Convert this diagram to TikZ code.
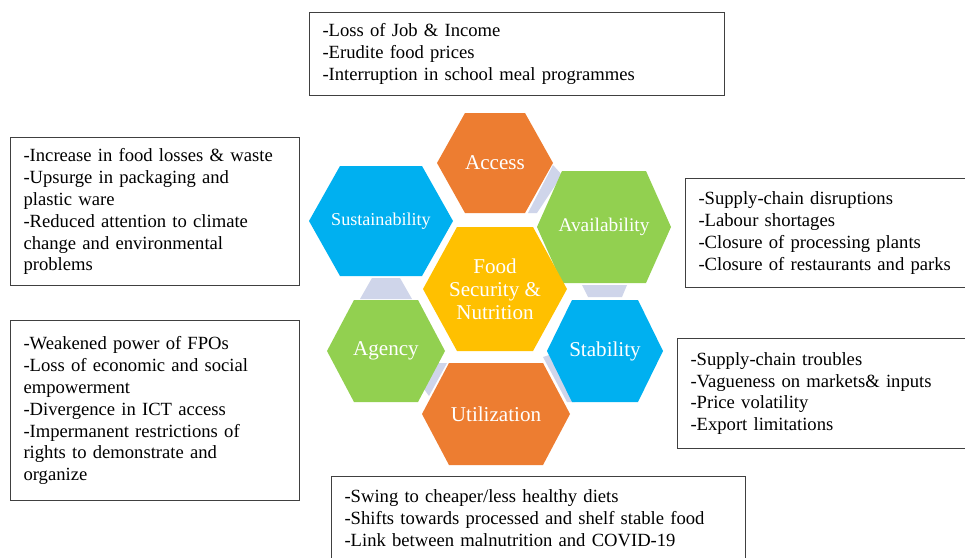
\documentclass[tikz,border=0pt]{standalone}
\usepackage{fontspec}
\setmainfont{Liberation Serif}

\definecolor{hexorange}{HTML}{ED7D31}
\definecolor{hexgreen}{HTML}{92D050}
\definecolor{hexblue}{HTML}{00B0F0}
\definecolor{hexyellow}{HTML}{FFC000}
\definecolor{linkgray}{HTML}{CFD5EA}

% #1 name, #2 centre, #3 half width, #4 half height, #5 half top edge, #6 colour, #7 label
\newcommand{\hexcell}[7]{%
  \fill[#6,shift={(#2)}] (-#3,0) -- (-#5,-#4) -- (#5,-#4) -- (#3,0) -- (#5,#4) -- (-#5,#4) -- cycle;
  \node[hexlabel] (#1) at (#2) {#7};
}

\begin{document}
\begin{tikzpicture}[x=0.02cm,y=-0.02cm,
    hexlabel/.style={text=white,align=center,font=\fontsize{12}{13}\selectfont},
    infobox/.style={draw=black!75,line width=0.6pt,fill=white,anchor=north west,align=left,
      inner xsep=0.26cm,inner ysep=0pt,font=\fontsize{10.6}{12.5}\selectfont}]
    \useasboundingbox[fill=white] (0,0) rectangle (965,558);

    % small tabs between neighbouring cells
    \fill[linkgray] (553,165) -- (562,175) -- (537,213) -- (528,213) -- cycle;
    \fill[linkgray] (582,285) -- (627,285) -- (622,297) -- (588,297) -- cycle;
    \fill[linkgray] (543,357) -- (549,355) -- (575,402) -- (567,402) -- cycle;
    \fill[linkgray] (438,363) -- (447,363) -- (429,396) -- (424,389) -- cycle;
    \fill[linkgray] (372,278) -- (400,278) -- (412,299) -- (360,299) -- cycle;

    % hexagon cluster
    \hexcell{access}{495,163}{58}{50}{30}{hexorange}{Access}
    \hexcell{avail}{604,227}{67}{56}{42}{hexgreen}{\fontsize{11}{13}\selectfont Availability}
    \hexcell{sustain}{381,221}{72}{55}{41}{hexblue}{\fontsize{10.3}{13}\selectfont Sustainability}
    \hexcell{food}{495,289}{72}{62}{38}{hexyellow}{Food\\Security \&\\Nutrition}
    \hexcell{agency}{386,351}{59}{51}{32}{hexgreen}{Agency}
    \hexcell{stab}{605,351}{58}{51}{33}{hexblue}{Stability}
    \hexcell{util}{496,414}{74}{51}{47}{hexorange}{Utilization}

    % boxes of impacts
    \node[infobox,text width=7.78cm,minimum height=1.66cm] (accessbox) at (309,12)
      {-Loss of Job \& Income\\-Erudite food prices\\-Interruption in school meal programmes};
    \node[infobox,text width=5.26cm,minimum height=2.96cm] (sustainbox) at (10,137)
      {-Increase in food losses \& waste\\-Upsurge in packaging and\\plastic ware\\-Reduced attention to climate\\change and environmental\\problems};
    \node[infobox,text width=5.28cm,minimum height=2.18cm] (availbox) at (685,178)
      {-Supply-chain disruptions\\-Labour shortages\\-Closure of processing plants\\-Closure of restaurants and parks};
    \node[infobox,text width=5.44cm,minimum height=2.2cm] (stabbox) at (677,338)
      {-Supply-chain troubles\\-Vagueness on markets\& inputs\\-Price volatility\\-Export limitations};
    \node[infobox,text width=5.26cm,minimum height=3.6cm] (agencybox) at (10,320)
      {-Weakened power of FPOs\\-Loss of economic and social\\empowerment\\-Divergence in ICT access\\-Impermanent restrictions of\\rights to demonstrate and\\organize};
    \node[infobox,text width=7.76cm,minimum height=1.68cm] (utilbox) at (331,476)
      {-Swing to cheaper/less healthy diets\\-Shifts towards processed and shelf stable food\\-Link between malnutrition and COVID-19};
\end{tikzpicture}
\end{document}
